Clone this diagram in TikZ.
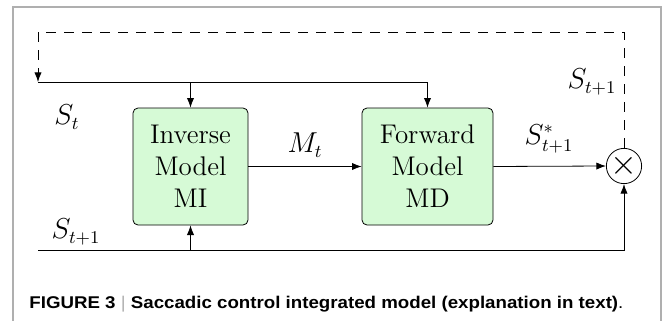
\documentclass[tikz,border=0pt]{standalone}
\usepackage{fontspec}
\newfontfamily\capfont[FakeStretch=1.1]{Liberation Sans}
\usetikzlibrary{arrows.meta,positioning,calc}
\definecolor{boxgreen}{RGB}{214,250,214}
\definecolor{framegray}{RGB}{175,175,175}
\tikzset{
    -Latex, line width=0.65pt,
    block/.style = {draw, rounded corners=2.5pt, fill=boxgreen, align=center,
                    minimum height=58.5pt, inner sep=2pt},
    mult/.style = {circle, draw, minimum size=17.5pt, inner sep=0pt},
    lbl/.style = {inner sep=0pt}
}
\begin{document}
\begin{tikzpicture}[x=0.5pt, y=-0.5pt, font=\fontsize{13.5}{16}\selectfont]
	\useasboundingbox (0,0) rectangle (665,321);
	% frame of the figure
	\draw[-, framegray, line width=0.8pt] (13,321) -- (13,7) -- (661,7) -- (661,321);

	\node[block, minimum width=57.5pt] (inv) at (190.5,166.5) {Inverse\\Model\\MI};
	\node[block, minimum width=65.5pt] (fwd) at (427.5,166.5) {Forward\\Model\\MD};
	\node[mult, font=\fontsize{19}{19}\selectfont] (mul) at (624,166) {$\times$};

	\coordinate (top) at (38,82);
	\coordinate (fb) at (38,32);
	\coordinate (bot) at (38,250);

	\node[lbl] (st) at (67,117) {$S_t$};
	\node[lbl] (stn) at (76,232) {$S_{t+1}$};
	\node[lbl] (mt) at (305,145) {$M_t$};
	\node[lbl] (sst) at (549,139) {$S^*_{t+1}$};
	\node[lbl] (sfb) at (592,82) {$S_{t+1}$};

	\draw (top) -| (fwd.north);
	\draw (inv.north |- top) -- (inv.north);
	\draw (inv.east) -- (fwd.west);
	\draw (fwd.east) -- (mul.west);
	\draw (bot) -| (mul.south);
	\draw (inv.south |- bot) -- (inv.south);
	\draw[dashed, dash pattern=on 5pt off 4pt] (mul.north) |- (fb) -- (top);

	% caption
	\node[anchor=base west, inner sep=0pt, font=\capfont\fontsize{8.5}{10}\selectfont] (cap) at (29,308)
	  {\textbf{FIGURE 3} {\color{framegray}|} \textbf{Saccadic control integrated model (explanation in text)}.};
\end{tikzpicture}
\end{document}
